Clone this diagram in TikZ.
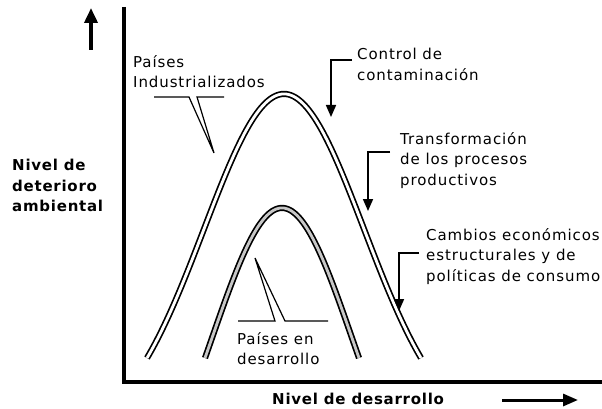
\documentclass[tikz,border=0pt]{standalone}
\usepackage{fontspec}
\newfontfamily\lblfont{DejaVu Sans}[LetterSpace=6]
\newfontfamily\boldlblfont{DejaVu Sans Bold}[LetterSpace=5]
\usetikzlibrary{arrows.meta}
\begin{document}
\begin{tikzpicture}[x=1pt,y=-1pt,
  lbl/.style={font=\lblfont\fontsize{15}{20.5}\selectfont, align=left, anchor=north west, inner sep=0pt},
  blbl/.style={font=\boldlblfont\fontsize{15}{20.5}\selectfont, align=left, anchor=north west, inner sep=0pt},
  axisline/.style={line width=3.8pt, line join=miter},
  bigarrow/.style={line width=3.6pt, -{Triangle[length=15pt,width=13pt]}},
  widearrow/.style={line width=3pt, -{Triangle[length=15pt,width=12pt]}},
  curveline/.style={line width=1.7pt, double=white, double distance=2.8pt},
  curvegray/.style={line width=1.7pt, double=black!22, double distance=2.8pt},
  leader/.style={line width=1.2pt},
  tipleader/.style={line width=1.7pt, -{Triangle[length=12pt,width=10pt]}}
]
\useasboundingbox (0,0) rectangle (602,409);

% axes
\coordinate (ytop) at (124,7);
\coordinate (origin) at (124,382);
\coordinate (xend) at (602,382);
\draw[axisline] (ytop) -- (origin) -- (xend);

% axis arrows
\coordinate (ua0) at (91,50);
\coordinate (ua1) at (91,8);
\draw[bigarrow] (ua0) -- (ua1);
\coordinate (ra0) at (502,400);
\coordinate (ra1) at (578,400);
\draw[widearrow] (ra0) -- (ra1);

% axis labels
\node[blbl] (ylab) at (12,159) {Nivel de\\deterioro\\ambiental};
\node[blbl] (xlab) at (272,393) {Nivel de desarrollo};

% curves
\draw[curveline] plot[domain=-137:137, samples=121, smooth]
  ({284+\x}, {358-264*(exp(-0.5*(\x/80)*(\x/80))-0.2308)/0.7692});
\draw[curvegray] plot[domain=-77:77, samples=81, smooth]
  ({282+\x}, {358-150*(exp(-0.5*(\x/70)*(\x/70))-0.5461)/0.4539});

% text labels
\node[lbl] (ind) at (133,55) {Países\\Industrializados};
\node[lbl] (ctrl) at (357,48) {Control de\\contaminación};
\node[lbl] (trans) at (400,132) {Transformación\\de los procesos\\productivos};
\node[lbl] (camb) at (426,228) {Cambios económicos\\estructurales y de\\políticas de consumo};
\node[lbl] (des) at (237,332) {Países en\\desarrollo};

% leader for Paises Industrializados
\coordinate (i1) at (154,97);
\coordinate (i2) at (189,97);
\coordinate (i3) at (214,153);
\coordinate (i4) at (197,97);
\coordinate (i5) at (224,97);
\draw[leader] (i1) -- (i2) -- (i3) -- (i4) -- (i5);

% leader for Paises en desarrollo
\coordinate (d1) at (238,321);
\coordinate (d2) at (275,321);
\coordinate (d3) at (255,258);
\coordinate (d4) at (285,321);
\coordinate (d5) at (328,321);
\draw[leader] (d1) -- (d2) -- (d3) -- (d4) -- (d5);

% arrows from labels
\coordinate (c1) at (352,60);
\coordinate (c2) at (331,60);
\coordinate (c3) at (331,117);
\draw[tipleader] (c1) -- (c2) -- (c3);

\coordinate (t1) at (390,152);
\coordinate (t2) at (368,152);
\coordinate (t3) at (368,211);
\draw[tipleader] (t1) -- (t2) -- (t3);

\coordinate (k1) at (419,253);
\coordinate (k2) at (399,253);
\coordinate (k3) at (399,311);
\draw[tipleader] (k1) -- (k2) -- (k3);
\end{tikzpicture}
\end{document}
